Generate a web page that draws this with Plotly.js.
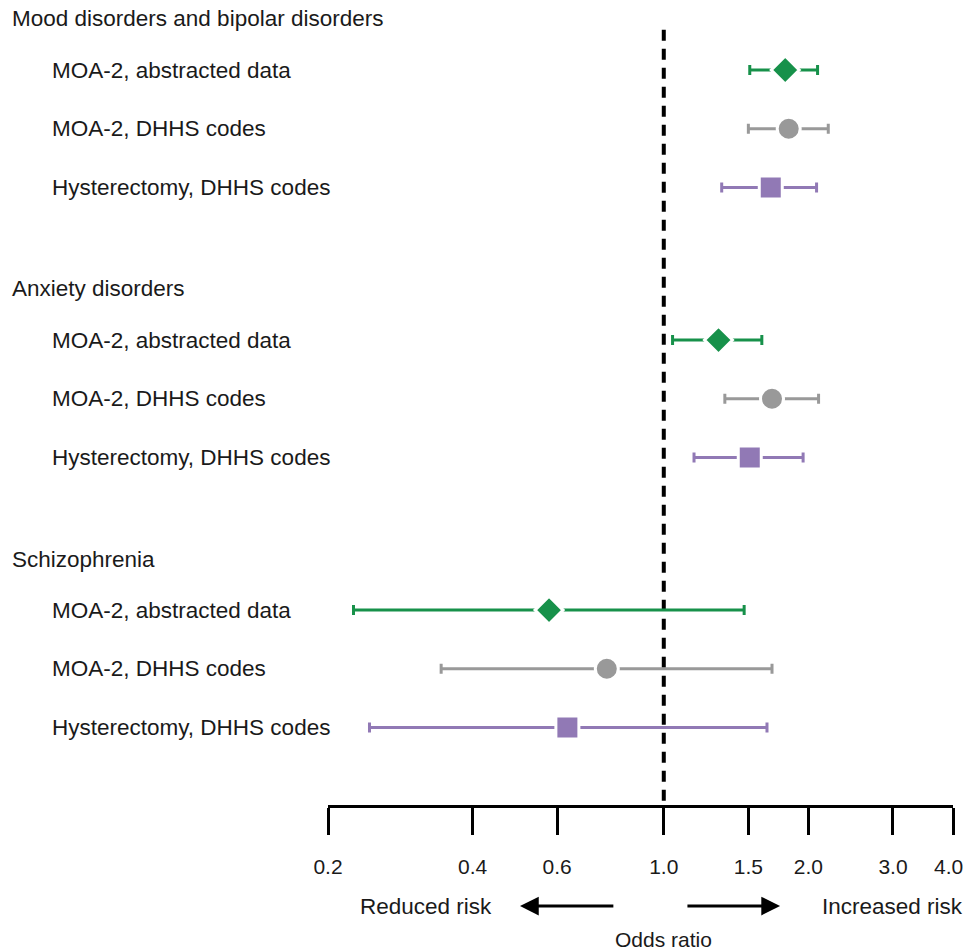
<!DOCTYPE html>
<html><head><meta charset="utf-8">
<script src="https://cdn.plot.ly/plotly-3.0.1.min.js"></script>
<style>html,body{margin:0;padding:0;background:#fff;}#chart{width:966px;height:952px;}</style>
</head><body><div id="chart"></div>
<script>
// ---- data ----
var groups = ['Mood disorders and bipolar disorders', 'Anxiety disorders', 'Schizophrenia'];
var seriesNames = ['MOA-2, abstracted data', 'MOA-2, DHHS codes', 'Hysterectomy, DHHS codes'];

var orAbstracted = [1.79, 1.30, 0.577];
var loAbstracted = [1.51, 1.043, 0.226];
var hiAbstracted = [2.09, 1.60, 1.47];

var orMoaCodes = [1.82, 1.68, 0.761];
var loMoaCodes = [1.50, 1.34, 0.344];
var hiMoaCodes = [2.20, 2.10, 1.68];

var orHyst = [1.67, 1.51, 0.63];
var loHyst = [1.32, 1.156, 0.244];
var hiHyst = [2.08, 1.95, 1.64];

var tickVals = [0.2, 0.4, 0.6, 1.0, 1.5, 2.0, 3.0, 4.0];
var tickLabels = ['0.2', '0.4', '0.6', '1.0', '1.5', '2.0', '3.0', '4.0'];
var nullValue = 1.0;

// ---- styling / layout constants ----
var FONT = 'Liberation Sans, Arial, sans-serif';
var TXT = '#1a1a1a';
var LBL = 22.5;
var GROUP_STEP = 4.6, HEADER_OFF = -0.87;
var colors = ['#17914a', '#999999', '#9179b5'];
var symbols = ['diamond', 'circle', 'square'];
var sizes = [21.5, 23, 23];

function rowY(g, s) { return g * GROUP_STEP + s; }

var seriesData = [
  [orAbstracted, loAbstracted, hiAbstracted],
  [orMoaCodes, loMoaCodes, hiMoaCodes],
  [orHyst, loHyst, hiHyst]
];

var traces = seriesData.map(function (d, s) {
  var est = d[0], lo = d[1], hi = d[2];
  return {
    type: 'scatter', mode: 'markers', name: seriesNames[s],
    x: est,
    y: groups.map(function (_, g) { return rowY(g, s); }),
    marker: { symbol: symbols[s], size: sizes[s], color: colors[s], line: { color: '#ffffff', width: 3 } },
    error_x: {
      type: 'data', symmetric: false,
      array: est.map(function (v, i) { return hi[i] - v; }),
      arrayminus: est.map(function (v, i) { return v - lo[i]; }),
      color: colors[s], thickness: 3, width: 5
    },
    cliponaxis: false,
    hoverinfo: 'x+name'
  };
});

var annotations = [];
groups.forEach(function (gName, g) {
  annotations.push({
    text: gName, xref: 'paper', yref: 'y', x: (10 - 328) / 625, y: rowY(g, 0) + HEADER_OFF,
    xanchor: 'left', yanchor: 'middle', showarrow: false,
    font: { family: FONT, size: LBL, color: TXT }
  });
  seriesNames.forEach(function (sName, s) {
    annotations.push({
      text: sName, xref: 'paper', yref: 'y', x: (50 - 328) / 625, y: rowY(g, s),
      xanchor: 'left', yanchor: 'middle', showarrow: false,
      font: { family: FONT, size: LBL, color: TXT }
    });
  });
});

// direction arrows and captions
var arrowY = (805 - 906) / 805;
annotations.push({
  x: Math.log10(0.502), y: arrowY, xref: 'x', yref: 'paper',
  ax: Math.log10(0.791), ay: 0, axref: 'x', ayref: 'pixel',
  text: '', showarrow: true, arrowhead: 2, arrowsize: 1.25, arrowwidth: 3, arrowcolor: '#000'
});
annotations.push({
  x: Math.log10(1.746), y: arrowY, xref: 'x', yref: 'paper',
  ax: Math.log10(1.112), ay: 0, axref: 'x', ayref: 'pixel',
  text: '', showarrow: true, arrowhead: 2, arrowsize: 1.25, arrowwidth: 3, arrowcolor: '#000'
});
annotations.push({
  text: 'Reduced risk', xref: 'paper', yref: 'paper', x: (494 - 328) / 625, y: arrowY,
  xanchor: 'right', yanchor: 'middle', showarrow: false, font: { family: FONT, size: LBL, color: TXT }
});
annotations.push({
  text: 'Increased risk', xref: 'paper', yref: 'paper', x: (820 - 328) / 625, y: arrowY,
  xanchor: 'left', yanchor: 'middle', showarrow: false, font: { family: FONT, size: LBL, color: TXT }
});
annotations.push({
  text: 'Odds ratio', xref: 'x', yref: 'paper', x: Math.log10(nullValue), y: (805 - 939) / 805,
  xanchor: 'center', yanchor: 'middle', showarrow: false, font: { family: FONT, size: 21, color: TXT }
});

// last tick label is drawn right-aligned to its tick so it stays inside the page, as in the reference
var lastIdx = tickLabels.length - 1;
var tickTextShown = tickLabels.map(function (t, i) { return i === lastIdx ? '' : t; });
annotations.push({
  text: tickLabels[lastIdx], xref: 'x', yref: 'paper', x: Math.log10(tickVals[lastIdx]),
  y: (805 - 866.5) / 805, xanchor: 'right', yanchor: 'middle', xshift: 12, showarrow: false,
  font: { family: FONT, size: 21, color: TXT }
});

var layout = {
  width: 966, height: 952,
  margin: { l: 328, r: 13, t: 0, b: 147 },
  paper_bgcolor: '#fff', plot_bgcolor: 'rgba(0,0,0,0)',
  showlegend: false,
  font: { family: FONT, size: LBL, color: TXT },
  xaxis: {
    type: 'log', range: [Math.log10(0.2) - 1e-6, Math.log10(4) + 1e-6],
    tickvals: tickVals, ticktext: tickTextShown,
    ticks: 'outside', ticklen: 27, tickwidth: 3, tickcolor: '#000',
    showline: true, linewidth: 3, linecolor: '#000',
    showgrid: false, zeroline: false,
    ticklabelstandoff: 14,
    ticklabeloverflow: 'allow',
    tickfont: { family: FONT, size: 21, color: TXT },
    fixedrange: true
  },
  yaxis: {
    visible: false, range: [805 / 58.7 - 1.193, -1.193], fixedrange: true
  },
  shapes: [{
    type: 'line', xref: 'x', yref: 'paper', x0: nullValue, x1: nullValue, y0: 0.963, y1: 0,
    line: { color: '#000', width: 4, dash: '11px,8px' }, layer: 'below'
  }],
  annotations: annotations
};

Plotly.newPlot('chart', traces, layout, { displayModeBar: false, staticPlot: true });
</script>
</body></html>
